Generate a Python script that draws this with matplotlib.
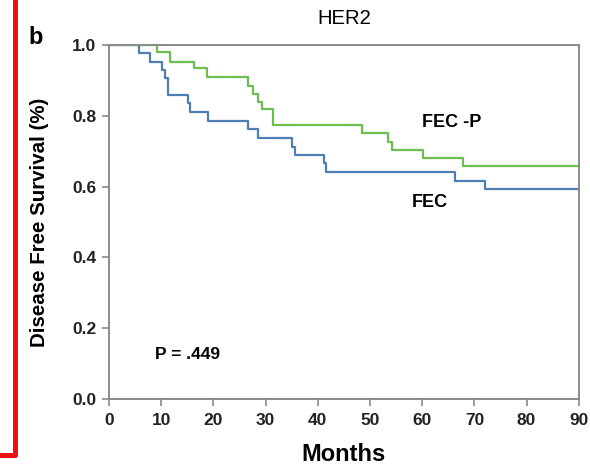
import matplotlib
matplotlib.use("Agg")
import matplotlib.pyplot as plt
from matplotlib.lines import Line2D

plt.rcParams['font.family'] = ['Liberation Sans', 'DejaVu Sans']

# Kaplan-Meier steps (months, survival)
fecp_months = [0, 9.2, 11.7, 16.2, 18.7, 26.7, 27.5, 28.5, 29.3, 31.5, 48.4, 53.5, 54.3, 60.2, 67.9, 90]
fecp_surv = [1.0, 0.98, 0.953, 0.934, 0.91, 0.885, 0.862, 0.84, 0.82, 0.774, 0.75, 0.727, 0.703, 0.68, 0.658, 0.658]

fec_months = [0, 5.8, 7.9, 10.1, 10.7, 11.4, 15.2, 15.5, 19.0, 26.7, 28.6, 35.0, 35.6, 41.1, 41.6, 66.3, 72.0, 90]
fec_surv = [1.0, 0.976, 0.953, 0.93, 0.906, 0.859, 0.835, 0.81, 0.786, 0.762, 0.737, 0.713, 0.689, 0.666, 0.642, 0.616, 0.592, 0.592]

x_ticks = [0, 10, 20, 30, 40, 50, 60, 70, 80, 90]
y_ticks = [0.0, 0.2, 0.4, 0.6, 0.8, 1.0]

fig = plt.figure(figsize=(5.9, 4.72), dpi=100)
ax = fig.add_axes([0.1847, 0.1547, 0.7963, 0.75])

ax.plot(fecp_months, fecp_surv, drawstyle='steps-post', color='#6cbf4e', lw=1.6)
ax.plot(fec_months, fec_surv, drawstyle='steps-post', color='#4d7fb5', lw=1.6)

ax.set_xlim(0, 90)
ax.set_ylim(0, 1.0)
ax.set_xticks(x_ticks)
ax.set_yticks(y_ticks)
ax.set_xticklabels([str(t) for t in x_ticks])
ax.set_yticklabels(['%.1f' % t for t in y_ticks])
for s in ax.spines.values():
    s.set_color('#8a8a8a')
    s.set_linewidth(1.4)
ax.tick_params(direction='out', length=5, width=1.2, color='#8a8a8a', labelsize=12.5)
ax.tick_params(axis='x', pad=5)
ax.tick_params(axis='y', pad=4)
for lab in ax.get_xticklabels() + ax.get_yticklabels():
    lab.set_fontweight('bold')
    lab.set_color('#222222')

ax.set_xlabel('Months', fontsize=17, fontweight='bold', labelpad=11)
ax.set_ylabel('Disease Free Survival (%)', fontsize=14.8, fontweight='bold', labelpad=17)
ax.set_title('HER2', fontsize=14.6, pad=15)

ax.text(65.7, 0.78, 'FEC -P', ha='center', va='center', fontsize=13, fontweight='bold')
ax.text(61.5, 0.556, 'FEC', ha='center', va='center', fontsize=13, fontweight='bold')
ax.text(8.8, 0.125, 'P = .449', ha='left', va='center', fontsize=12.5, fontweight='bold')

fig.text(36 / 590, 1 - 38 / 472, 'b', fontsize=17, fontweight='bold', ha='center', va='center')

# red frame edge of the surrounding panel
fig.add_artist(Line2D([15 / 590, 15 / 590, 0], [1.0, 1 - 455 / 472, 1 - 455 / 472],
                      transform=fig.transFigure, color='#ee1111', lw=3.6))

fig.savefig('out.png', dpi=100)
